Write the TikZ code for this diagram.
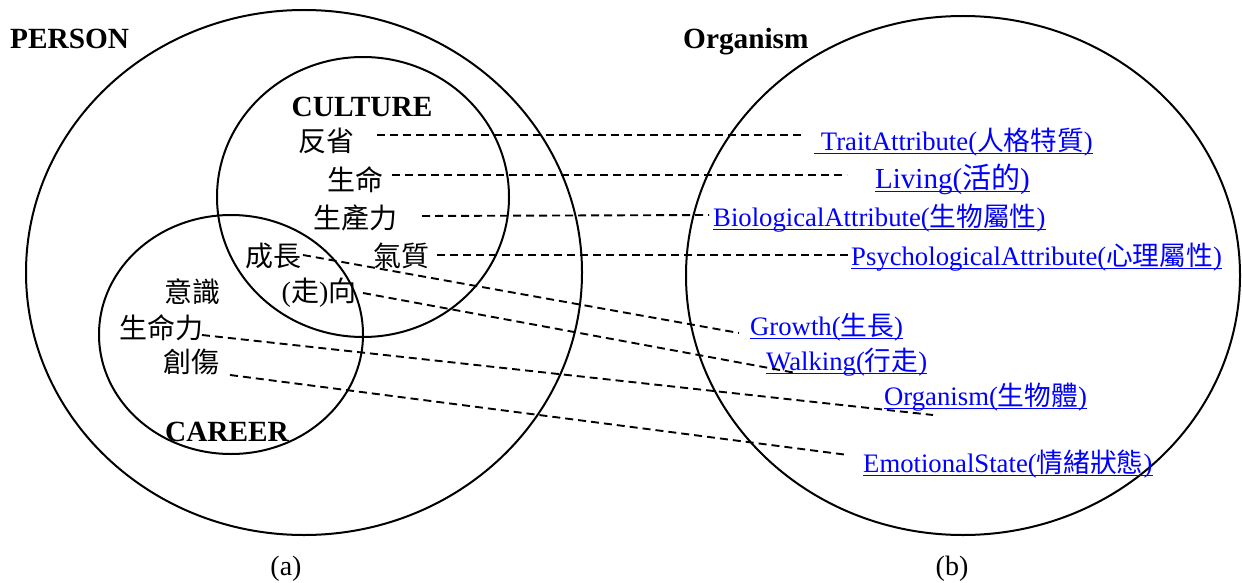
\documentclass[tikz,border=0pt]{standalone}
\usepackage{fontspec}
\setmainfont{Liberation Serif}
\newfontfamily\cjk{Noto Sans CJK TC}
\begin{document}
\begin{tikzpicture}[x=1pt,y=-1pt,
  ring/.style={line width=2pt},
  conn/.style={line width=1.9pt, dash pattern=on 8pt off 5pt},
  zh/.style={inner sep=0pt, font=\fontsize{28}{30}\selectfont\cjk},
  head/.style={inner sep=0pt, anchor=base, font=\fontsize{29.3}{31}\selectfont\bfseries},
  link/.style={inner sep=0pt, anchor=base west, text=blue, font=\fontsize{26.7}{30}\selectfont},
  ul/.style={blue, line width=1.9pt},
  captext/.style={inner sep=0pt, anchor=base, font=\fontsize{28}{30}\selectfont}]
\useasboundingbox (0,0) rectangle (1242,583);

% circles
\draw[ring] (304,272.5) ellipse [x radius=278pt, y radius=262.5pt];
\draw[ring] (363,197) ellipse [x radius=146pt, y radius=140pt];
\draw[ring] (231,334.5) ellipse [x radius=132pt, y radius=119.5pt];
\draw[ring] (963,275.5) ellipse [x radius=277pt, y radius=259.5pt];

% headings
\node[head, anchor=base west] (person) at (10,49) {PERSON};
\node[head, anchor=base west] (organismH) at (683,49) {Organism};
\node[head] (culture) at (362,117) {CULTURE};
\node[head] (career) at (227,441) {CAREER};

% left terms
\node[zh] (fx) at (326,141) {反省};
\node[zh] (sm) at (355,180) {生命};
\node[zh] (scl) at (355,218) {生產力};
\node[zh] (cz) at (273.5,256) {成長};
\node[zh] (qz) at (401.5,256) {氣質};
\node[zh] (ys) at (192.5,292) {意識};
\node[zh] (zx) at (319,293) {{\rmfamily(}走{\rmfamily)}向};
\node[zh] (sml) at (161,328) {生命力};
\node[zh] (cs) at (191.5,362) {創傷};

% right terms
\node[link] (trait) at (814,150) {\ TraitAttribute(\cjk 人格特質\rmfamily)};
\node[link, font=\fontsize{29}{32}\selectfont] (living) at (875,188) {Living(\cjk 活的\rmfamily)};
\node[link] (bio) at (713,226) {BiologicalAttribute(\cjk 生物屬性\rmfamily)};
\node[link] (psy) at (851,265) {PsychologicalAttribute(\cjk 心理屬性\rmfamily)};
\node[link] (growth) at (750,335) {Growth(\cjk 生長\rmfamily)};
\node[link] (walk) at (766,370) {Walking(\cjk 行走\rmfamily)};
\node[link] (org) at (884,405) {Organism(\cjk 生物體\rmfamily)};
\node[link] (emo) at (863,472) {EmotionalState(\cjk 情緒狀態\rmfamily)};

% underlines
\foreach \n in {trait,living,bio,psy,growth,walk,org,emo}
  \draw[ul] ([yshift=-3.5pt]\n.base west) -- ([yshift=-3.5pt]\n.base east);

% connectors
\draw[conn] ([xshift=51pt,yshift=6pt]fx.center) -- ([xshift=-10pt,yshift=15pt]trait.base west);
\draw[conn] ([xshift=37pt,yshift=5pt]sm.center) -- ([xshift=-28pt,yshift=13pt]living.base west);
\draw[conn] ([xshift=67pt,yshift=2pt]scl.center) -- ([xshift=-4pt,yshift=11pt]bio.base west);
\draw[conn] ([xshift=35.5pt,yshift=1pt]qz.center) -- ([xshift=-1pt,yshift=10pt]psy.base west);
\draw[conn] ([xshift=29.5pt,yshift=1pt]cz.center) -- ([xshift=-11pt,yshift=2pt]growth.base west);
\draw[conn] ([xshift=44pt]zx.center) -- ([xshift=30pt,yshift=-3pt]walk.base west);
\draw[conn] ([xshift=41pt,yshift=-7pt]sml.center) -- ([xshift=49pt,yshift=-10pt]org.base west);
\draw[conn] ([xshift=38.5pt,yshift=-13pt]cs.center) -- ([xshift=-15pt,yshift=17pt]emo.base west);

% captions
\node[captext] (capa) at (286,575) {(a)};
\node[captext] (capb) at (952,575) {(b)};
\end{tikzpicture}
\end{document}
